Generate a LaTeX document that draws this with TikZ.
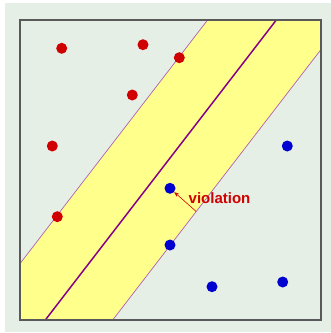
\documentclass[tikz,border=0pt]{standalone}
\usepackage{fontspec}
\newfontfamily\labelfont{Liberation Sans}
\usetikzlibrary{arrows.meta, positioning}
\definecolor{bgGreen}{HTML}{E6EFE6}
\definecolor{bandYellow}{HTML}{FFFF8C}
\definecolor{sepPurple}{HTML}{880088}
\definecolor{marginPurple}{HTML}{B060B0}
\definecolor{redPt}{HTML}{D00000}
\definecolor{bluePt}{HTML}{0000D0}

\begin{document}
\begin{tikzpicture}[
  x=1pt, y=-1pt,
  redpt/.style={circle, fill=redPt, inner sep=0pt, minimum size=11pt},
  bluept/.style={circle, fill=bluePt, inner sep=0pt, minimum size=11pt},
  margin/.style={marginPurple, line width=0.7pt},
  arr/.style={-{Stealth[open, length=5pt, width=4pt]}, redPt, line width=0.6pt}
]
  \useasboundingbox (0,0) rectangle (331,333);
  \fill[bgGreen] (5,3) rectangle (331,332);

  % band and separating lines, clipped to the plot square
  \begin{scope}
    \clip (20,20) rectangle (321,320);
    \fill[bandYellow] (-23.4,320) -- (207.6,20) -- (343.7,20) -- (112.7,320) -- cycle;
    \draw[margin] (-23.4,320) -- (207.6,20);
    \draw[margin] (112.7,320) -- (343.7,20);
    \draw[sepPurple, line width=1.5pt] (45.3,320) -- (276.3,20);
  \end{scope}
  \draw[black!65, line width=1.6pt] (20,20) rectangle (321,320);

  % class +1
  \node[redpt] (r1) at (61.7,48.3) {};
  \node[redpt] (r2) at (143,44.7) {};
  \node[redpt] (r3) at (179.3,57.7) {};
  \node[redpt] (r4) at (132.3,95) {};
  \node[redpt] (r5) at (52.3,146) {};
  \node[redpt] (r6) at (57.3,216.7) {};

  % class -1
  \node[bluept] (b1) at (287.3,146) {};
  \node[bluept] (b2) at (170,188.3) {};
  \node[bluept] (b3) at (170,245) {};
  \node[bluept] (b4) at (212,286.7) {};
  \node[bluept] (b5) at (282.7,282) {};

  \coordinate (vstart) at (196.2,211.5);
  \draw[arr] (vstart) -- (b2);
  \node[anchor=west, inner sep=0pt, text=redPt, font=\labelfont\bfseries\fontsize{15}{16}\selectfont] (viol) at (188.5,198) {violation};
\end{tikzpicture}
\end{document}
